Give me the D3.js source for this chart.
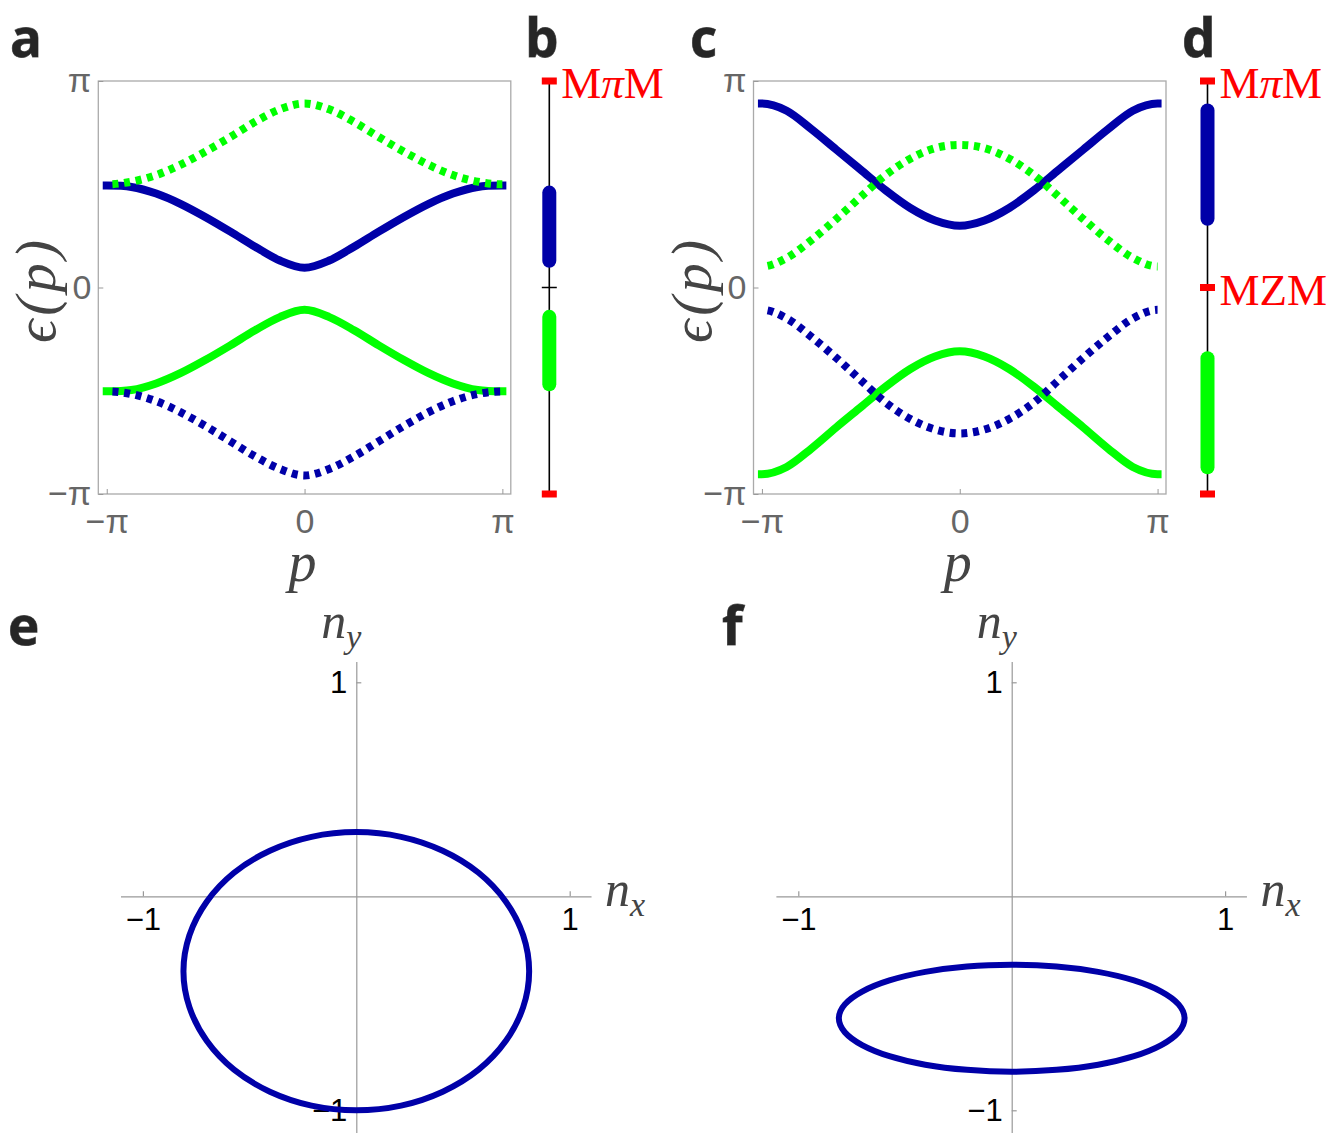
<!DOCTYPE html>
<html>
<head>
<meta charset="utf-8">
<script src="https://cdn.jsdelivr.net/npm/d3@7"></script>
<style>
    body { margin: 0; background: #fff; }
    svg { display: block; }
    .letter { font-family: "Open Sans", sans-serif; font-weight: 700; font-size: 53px;
              fill: #262626; stroke: #666; stroke-width: 0.8px; paint-order: stroke; }
    .bandAxis text { font-family: "Liberation Sans", Arial, sans-serif; font-size: 34px; fill: #666; }
    .bandAxis line { stroke: #999; }
    .loopAxis text { font-family: "Liberation Sans", Arial, sans-serif; font-size: 31px; fill: #000; }
    .loopAxis line, .loopAxis path { stroke: #999; stroke-width: 1.2px; }
    .axLabel { font-family: "Liberation Serif", serif; font-style: italic; fill: #444; }
    .marker { font-family: "Liberation Serif", serif; font-size: 45px; fill: #f00; }
</style>
</head>
<body>
<script>
(function() {

    ////////////////
    // chart data //
    ////////////////
    var PI = Math.PI;
    // sample positions along p, in units of pi/8
    var pSteps = [-8, -7, -6, -5, -4, -3, -2, -1, 0, 1, 2, 3, 4, 5, 6, 7, 8];

    // panel a, quasi-energies
    var aBlueSolid  = [1.55, 1.53, 1.43, 1.27, 1.07, 0.85, 0.62, 0.41, 0.30, 0.41, 0.62, 0.85, 1.07, 1.27, 1.43, 1.53, 1.55];
    var aGreenSolid = [-1.58, -1.56, -1.46, -1.30, -1.10, -0.88, -0.65, -0.45, -0.34, -0.45, -0.65, -0.88, -1.10, -1.30, -1.46, -1.56, -1.58];
    var aGreenDot   = [1.57, 1.61, 1.71, 1.87, 2.07, 2.29, 2.52, 2.71, 2.80, 2.71, 2.52, 2.29, 2.07, 1.87, 1.71, 1.61, 1.57];
    var aBlueDot    = [-1.58, -1.62, -1.73, -1.90, -2.11, -2.34, -2.57, -2.76, -2.86, -2.76, -2.57, -2.34, -2.11, -1.90, -1.73, -1.62, -1.58];

    // panel c
    var cBlueSolid  = [2.80, 2.69, 2.41, 2.10, 1.79, 1.48, 1.21, 1.02, 0.94, 1.02, 1.21, 1.48, 1.79, 2.10, 2.41, 2.69, 2.80];
    var cGreenSolid = [-2.84, -2.73, -2.45, -2.13, -1.82, -1.51, -1.24, -1.05, -0.97, -1.05, -1.24, -1.51, -1.82, -2.13, -2.45, -2.73, -2.84];
    var cGreenDot   = [0.32, 0.45, 0.72, 1.04, 1.38, 1.71, 1.96, 2.12, 2.17, 2.12, 1.96, 1.71, 1.38, 1.04, 0.72, 0.45, 0.32];
    var cBlueDot    = [-0.34, -0.47, -0.75, -1.07, -1.41, -1.75, -2.00, -2.16, -2.22, -2.16, -2.00, -1.75, -1.41, -1.07, -0.75, -0.47, -0.34];

    // panels e and f, winding of (nx, ny), going round the loop
    var eNx = [0, 0.210, 0.405, 0.573, 0.701, 0.782, 0.810, 0.782, 0.701, 0.573, 0.405, 0.210,
               0, -0.210, -0.405, -0.573, -0.701, -0.782, -0.810, -0.782, -0.701, -0.573, -0.405, -0.210];
    var eNy = [0.300, 0.278, 0.213, 0.110, -0.025, -0.182, -0.350, -0.518, -0.675, -0.810, -0.913, -0.978,
               -1.000, -0.978, -0.913, -0.810, -0.675, -0.518, -0.350, -0.182, -0.025, 0.110, 0.213, 0.278];
    var fNx = [0, 0.210, 0.405, 0.573, 0.701, 0.782, 0.810, 0.782, 0.701, 0.573, 0.405, 0.210,
               0, -0.210, -0.405, -0.573, -0.701, -0.782, -0.810, -0.782, -0.701, -0.573, -0.405, -0.210];
    var fNy = [-0.320, -0.328, -0.353, -0.393, -0.445, -0.505, -0.570, -0.635, -0.695, -0.747, -0.787, -0.811,
               -0.820, -0.811, -0.787, -0.747, -0.695, -0.635, -0.570, -0.505, -0.445, -0.393, -0.353, -0.328];

    var bandTicks = [-PI, 0, PI];
    var bandTickLabels = ["\u2212\u03c0", "0", "\u03c0"];
    var loopTicks = [-1, 1];
    var loopTickLabels = ["\u22121", "1"];

    var blue = "#0000a8",
        green = "#00ff00",
        red = "#ff0000";

    var svg = d3.select("body")
        .append("svg")
        .attr("width", 1326)
        .attr("height", 1141);

    // band plots
    bandPanel(98.3, [aBlueSolid, aGreenSolid, aGreenDot, aBlueDot]);
    bandPanel(753.5, [cBlueSolid, cGreenSolid, cGreenDot, cBlueDot]);

    // spectrum strips
    stripPanel(549.3, aBlueSolid, aGreenSolid, [{v: PI, t: "M\u03c0M"}], true);
    stripPanel(1207.5, cBlueSolid, cGreenSolid, [{v: PI, t: "M\u03c0M"}, {v: 0, t: "MZM"}], false);

    // winding loops
    loopPanel(356.3, eNx, eNy);
    loopPanel(1011.7, fNx, fNy);

    // panel letters
    var letters = [
        {t: "a", x: 10, y: 57}, {t: "b", x: 525, y: 57},
        {t: "c", x: 690, y: 57}, {t: "d", x: 1182, y: 57},
        {t: "e", x: 8, y: 645}, {t: "f", x: 722, y: 645}
    ];
    svg.selectAll(".letter")
        .data(letters)
        .enter()
        .append("text")
        .attr("class", "letter")
        .attr("x", function(d) { return d.x; })
        .attr("y", function(d) { return d.y; })
        .text(function(d) { return d.t; });


    // hermite curve: central-difference slopes, flat at both ends (band edges are extrema)
    function curveFlatEnds(context) {
        var xs, ys;
        return {
            areaStart: function() {},
            areaEnd: function() {},
            lineStart: function() { xs = []; ys = []; },
            point: function(x, y) { xs.push(+x); ys.push(+y); },
            lineEnd: function() {
                var n = xs.length, m = [];
                for (var i = 0; i < n; i++) {
                    if (i === 0 || i === n - 1) {
                        m.push(0);
                    } else {
                        m.push((ys[i + 1] - ys[i - 1]) / (xs[i + 1] - xs[i - 1]));
                    }
                }
                context.moveTo(xs[0], ys[0]);
                for (var j = 0; j < n - 1; j++) {
                    var h = (xs[j + 1] - xs[j]) / 3;
                    context.bezierCurveTo(xs[j] + h, ys[j] + m[j] * h,
                        xs[j + 1] - h, ys[j + 1] - m[j + 1] * h,
                        xs[j + 1], ys[j + 1]);
                }
            }
        };
    }

    function bandScales(left) {
        var x = d3.scaleLinear()
            .domain([-PI - 0.134, PI + 0.134])
            .range([left, left + 412.5]);
        var y = d3.scaleLinear()
            .domain([-PI, PI])
            .range([494, 81]);
        return {x: x, y: y};
    }

    function toPoints(vals) {
        return pSteps.map(function(s, i) {
            return {p: s * PI / 8, e: vals[i]};
        });
    }

    function bandPanel(left, series) {
        var sc = bandScales(left),
            x = sc.x,
            y = sc.y;
        var g = svg.append("g");

        // frame
        g.append("rect")
            .attr("x", x.range()[0])
            .attr("y", y.range()[1])
            .attr("width", x.range()[1] - x.range()[0])
            .attr("height", y.range()[0] - y.range()[1])
            .attr("fill", "none")
            .attr("stroke", "#aaa")
            .attr("stroke-width", 1.3);

        var xAxis = d3.axisBottom(x)
            .tickValues(bandTicks)
            .tickSize(-5)
            .tickPadding(15)
            .tickFormat(function(d, i) { return bandTickLabels[i]; });
        g.append("g")
            .attr("class", "bandAxis")
            .attr("transform", "translate(0," + y.range()[0] + ")")
            .call(xAxis)
            .call(function(a) { a.select(".domain").remove(); });

        var yAxis = d3.axisLeft(y)
            .tickValues(bandTicks)
            .tickSize(-5)
            .tickPadding(7)
            .tickFormat(function(d, i) { return bandTickLabels[i]; });
        g.append("g")
            .attr("class", "bandAxis")
            .attr("transform", "translate(" + x.range()[0] + ",0)")
            .call(yAxis)
            .call(function(a) { a.select(".domain").remove(); });

        var line = d3.line()
            .x(function(d) { return x(d.p); })
            .y(function(d) { return y(d.e); })
            .curve(curveFlatEnds);

        // solid bands first, dotted ones on top
        var styles = [
            {c: blue, dash: null}, {c: green, dash: null},
            {c: green, dash: "6 5.7"}, {c: blue, dash: "6 5.7"}
        ];
        series.forEach(function(vals, i) {
            var st = styles[i];
            var path = g.append("path")
                .datum(toPoints(vals))
                .attr("d", line)
                .attr("fill", "none")
                .attr("stroke", st.c)
                .attr("stroke-width", 8);
            if (st.dash) {
                path.attr("stroke-dasharray", st.dash)
                    .attr("stroke-dashoffset", 6);
            } else {
                path.attr("stroke-linecap", "square");
            }
        });

        // axis labels
        var cx = (x.range()[0] + x.range()[1]) / 2;
        g.append("text")
            .attr("class", "axLabel")
            .attr("x", cx - 2)
            .attr("y", 581)
            .attr("text-anchor", "middle")
            .style("font-size", "56px")
            .text("p");
        g.append("text")
            .attr("class", "axLabel")
            .attr("transform", "translate(" + (x.range()[0] - 43) + "," + (y(0) + 2) + ") rotate(-90)")
            .attr("text-anchor", "middle")
            .style("font-size", "58px")
            .style("letter-spacing", "4px")
            .text("\u03f5(p)");
    }

    function stripPanel(cx, upper, lower, markers, zeroTick) {
        var y = bandScales(0).y;
        var g = svg.append("g");

        g.append("line")
            .attr("x1", cx).attr("x2", cx)
            .attr("y1", y(PI)).attr("y2", y(-PI))
            .attr("stroke", "#000")
            .attr("stroke-width", 1.6);

        if (zeroTick) {
            g.append("line")
                .attr("x1", cx - 7.5).attr("x2", cx + 7.5)
                .attr("y1", y(0)).attr("y2", y(0))
                .attr("stroke", "#000")
                .attr("stroke-width", 1.5);
        }

        // band ranges as thick rounded bars
        [{vals: upper, c: blue}, {vals: lower, c: green}].forEach(function(b) {
            var ext = d3.extent(b.vals);
            g.append("rect")
                .attr("x", cx - 7)
                .attr("width", 14)
                .attr("y", y(ext[1]))
                .attr("height", y(ext[0]) - y(ext[1]))
                .attr("rx", 7)
                .attr("fill", b.c);
        });

        // red end caps at +-pi and marked energies
        var redVals = [PI, -PI];
        markers.forEach(function(m) { if (m.v !== PI) { redVals.push(m.v); } });
        g.selectAll(".cap")
            .data(redVals)
            .enter()
            .append("rect")
            .attr("x", cx - 7.5)
            .attr("width", 15)
            .attr("y", function(d) { return y(d) - 3.5; })
            .attr("height", 7)
            .attr("fill", red);

        var lab = g.selectAll(".marker")
            .data(markers)
            .enter()
            .append("text")
            .attr("class", "marker")
            .attr("x", cx + 12)
            .attr("y", function(d) { return y(d.v) + 17; });
        lab.each(function(d) {
            var t = d3.select(this);
            if (d.t.indexOf("\u03c0") >= 0) {
                t.append("tspan").text("M");
                t.append("tspan").style("font-style", "italic").text("\u03c0");
                t.append("tspan").text("M");
            } else {
                t.text(d.t);
            }
        });
    }

    function loopPanel(ox, nx, ny) {
        var unitX = 213.4,
            unitY = 214,
            oy = 896.3;
        var x = d3.scaleLinear()
            .domain([-1.105, 1.1])
            .range([ox - 1.105 * unitX, ox + 1.1 * unitX]);
        var y = d3.scaleLinear()
            .domain([-1.104, 1.097])
            .range([oy + 1.104 * unitY, oy - 1.097 * unitY]);
        var g = svg.append("g");

        g.append("g")
            .attr("class", "loopAxis")
            .attr("transform", "translate(0," + y(0) + ")")
            .call(d3.axisBottom(x)
                .tickValues(loopTicks)
                .tickSize(-5)
                .tickSizeOuter(0)
                .tickPadding(12)
                .tickFormat(function(d, i) { return loopTickLabels[i]; }));

        g.append("g")
            .attr("class", "loopAxis")
            .attr("transform", "translate(" + x(0) + ",0)")
            .call(d3.axisLeft(y)
                .tickValues(loopTicks)
                .tickSize(-5)
                .tickSizeOuter(0)
                .tickPadding(9)
                .tickFormat(function(d, i) { return loopTickLabels[i]; }));

        var pts = nx.map(function(v, i) { return [v, ny[i]]; });
        g.append("path")
            .datum(pts)
            .attr("d", d3.line()
                .x(function(d) { return x(d[0]); })
                .y(function(d) { return y(d[1]); })
                .curve(d3.curveCardinalClosed.tension(0)))
            .attr("fill", "none")
            .attr("stroke", blue)
            .attr("stroke-width", 6);

        // axis names
        addSub(g, x(0) - 35, 638, "y");
        addSub(g, x.range()[1] + 14, 906, "x");
    }

    function addSub(g, px, py, sub) {
        var t = g.append("text")
            .attr("class", "axLabel")
            .attr("x", px)
            .attr("y", py)
            .style("font-size", "50px");
        t.append("tspan").text("n");
        t.append("tspan")
            .attr("dy", 10)
            .style("font-size", "34px")
            .text(sub);
    }

})();
</script>
</body>
</html>
